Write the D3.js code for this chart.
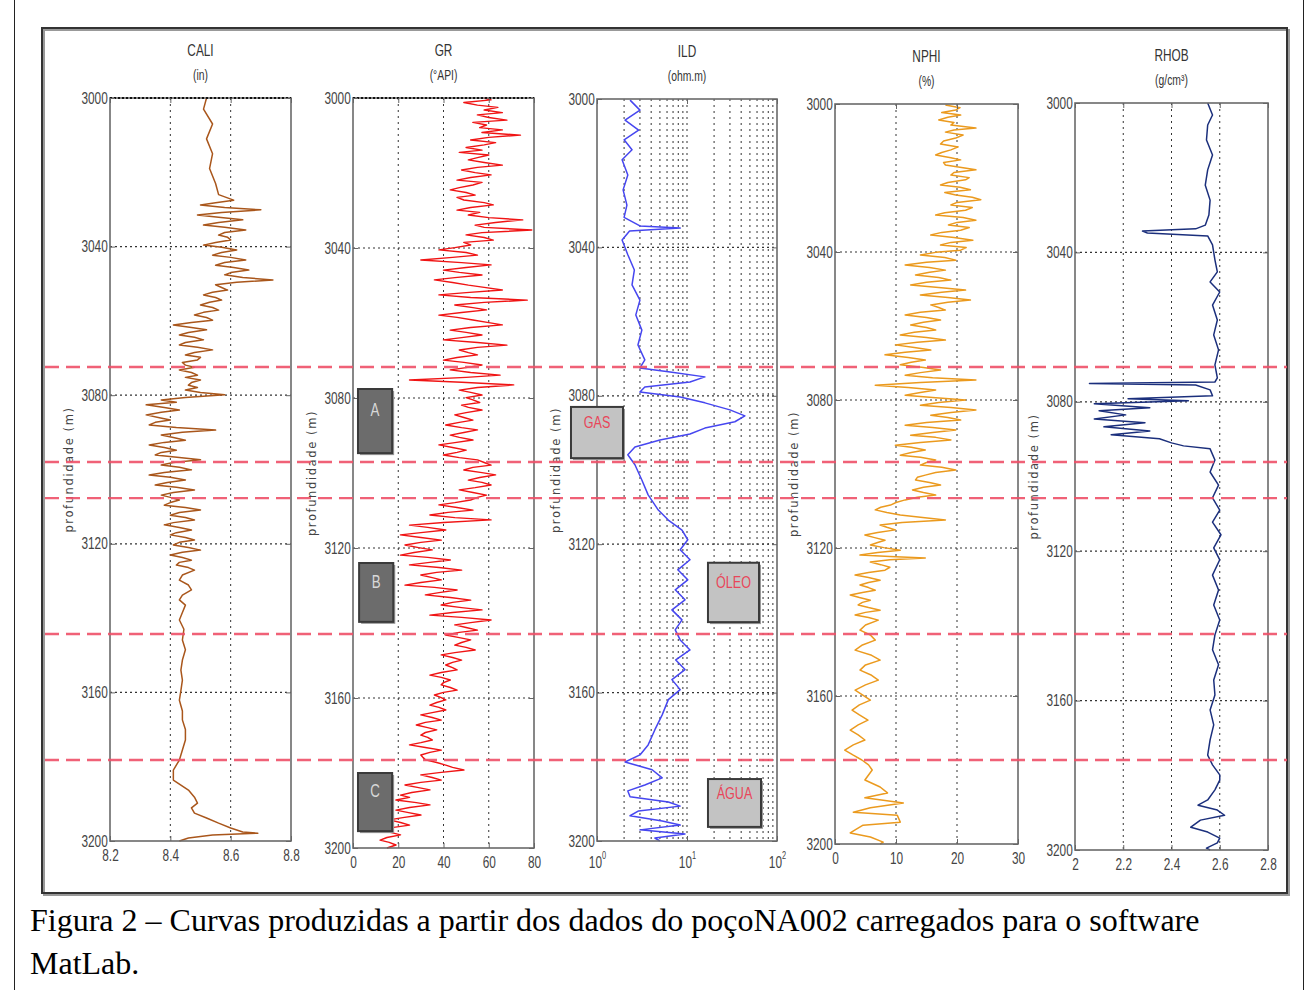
<!DOCTYPE html>
<html>
<head>
<meta charset="utf-8">
<script src="https://cdn.jsdelivr.net/npm/d3@7"></script>
<style>
  body { margin: 0; background: #fff; }
  .tick text { font-family: "Liberation Sans", Arial, sans-serif; font-size: 16px; fill: #444; }
  .tick line { stroke: #666; }
</style>
</head>
<body>
<svg id="chart" width="1308" height="990"></svg>
<script>
// depth axis shared by all tracks
const depthTicks = [3000, 3040, 3080, 3120, 3160, 3200];

const caliTicks = [8.2, 8.4, 8.6, 8.8];
const grTicks = [0, 20, 40, 60, 80];
const ildTicks = [1, 10, 100];
const ildMinor = [2, 3, 4, 5, 6, 7, 8, 9, 10, 20, 30, 40, 50, 60, 70, 80, 90];
const nphiTicks = [0, 10, 20, 30];
const rhobTicks = [2, 2.2, 2.4, 2.6, 2.8];

// [depth (m), value]
const CALI = [
  [3000,8.52],[3003,8.51],[3007,8.54],[3011,8.52],[3015,8.54],[3019,8.53],[3023,8.55],[3026,8.56],
  [3027.5,8.61],[3028.2,8.55],[3028.8,8.50],[3029.5,8.58],[3030.1,8.70],[3030.8,8.57],[3031.5,8.49],
  [3032.1,8.56],[3032.8,8.64],[3033.5,8.56],[3034.2,8.51],[3034.8,8.58],[3035.5,8.65],[3036.2,8.58],
  [3036.9,8.56],[3037.5,8.59],[3038.2,8.60],[3038.9,8.55],[3039.6,8.51],[3040.2,8.57],[3040.9,8.62],
  [3041.6,8.57],[3042.3,8.54],[3042.9,8.60],[3043.6,8.65],[3044.3,8.58],[3045,8.55],[3045.6,8.61],
  [3046.3,8.66],[3047,8.60],[3047.6,8.58],[3048.3,8.64],[3049,8.74],[3049.6,8.62],[3050.3,8.55],
  [3051,8.57],[3051.7,8.59],[3052.3,8.54],[3053,8.51],[3053.7,8.55],[3054.4,8.57],[3055,8.53],
  [3055.7,8.50],[3056.4,8.54],[3057.1,8.56],[3057.7,8.51],[3058.4,8.48],[3059.1,8.52],[3059.8,8.54],
  [3060.4,8.47],[3061.1,8.41],[3061.8,8.47],[3062.4,8.52],[3063.1,8.46],[3063.8,8.43],[3064.4,8.48],
  [3065.1,8.51],[3065.8,8.45],[3066.5,8.43],[3067.1,8.49],[3067.8,8.54],[3068.5,8.48],[3069.2,8.45],
  [3069.8,8.50],[3070.5,8.49],[3071.2,8.44],[3071.9,8.45],[3072.5,8.48],[3073.2,8.43],[3073.9,8.47],
  [3074.6,8.49],[3075.2,8.45],[3075.9,8.50],[3076.6,8.47],[3077.3,8.46],[3077.9,8.49],[3078.6,8.45],
  [3079.3,8.50],[3079.9,8.58],[3080.6,8.45],[3081.3,8.37],[3081.9,8.42],[3082.6,8.32],[3083.3,8.38],
  [3084,8.43],[3084.6,8.37],[3085.3,8.32],[3086,8.36],[3086.7,8.40],[3087.3,8.35],[3088,8.33],
  [3088.7,8.42],[3089.4,8.55],[3090,8.44],[3090.7,8.37],[3091.4,8.41],[3092.1,8.45],[3092.7,8.38],
  [3093.4,8.33],[3094.1,8.38],[3094.8,8.42],[3095.4,8.37],[3096.1,8.35],[3096.8,8.43],[3097.4,8.50],
  [3098.1,8.41],[3098.8,8.37],[3099.4,8.43],[3100.1,8.47],[3100.8,8.38],[3101.5,8.33],[3102.1,8.40],
  [3102.8,8.45],[3103.5,8.39],[3104.2,8.35],[3104.8,8.42],[3105.5,8.48],[3106.2,8.41],[3106.9,8.37],
  [3107.5,8.40],[3108.2,8.43],[3108.9,8.40],[3109.6,8.38],[3110.2,8.45],[3110.9,8.50],[3111.6,8.43],
  [3112.3,8.40],[3112.9,8.45],[3113.6,8.48],[3114.3,8.41],[3114.9,8.38],[3115.6,8.43],[3116.3,8.47],
  [3117,8.42],[3117.6,8.40],[3118.3,8.45],[3119,8.48],[3119.6,8.43],[3120.3,8.41],[3121,8.46],
  [3121.7,8.50],[3122.3,8.44],[3123,8.40],[3123.7,8.44],[3124.4,8.47],[3125,8.43],[3125.7,8.42],
  [3126.4,8.46],[3127.1,8.48],[3128.4,8.44],[3129.8,8.43],[3131.1,8.46],[3132.4,8.47],[3133.8,8.44],
  [3135.1,8.43],[3136.5,8.45],[3138.5,8.44],[3140.5,8.43],[3143,8.445],[3145.9,8.44],[3148.5,8.45],
  [3151.3,8.44],[3154,8.435],[3156.7,8.44],[3159.5,8.435],[3162.1,8.43],[3165,8.44],[3167.4,8.44],
  [3170,8.45],[3172.8,8.45],[3175.5,8.44],[3178.2,8.43],[3180.9,8.41],[3183.6,8.41],[3186.3,8.46],
  [3188.2,8.48],[3189.8,8.49],[3191.1,8.47],[3192.5,8.48],[3193.8,8.52],[3195.2,8.56],[3196.5,8.60],
  [3197.6,8.64],[3197.9,8.69],[3198.4,8.54],[3199.2,8.46],[3200,8.43]
];

const GR = [
  [3000,58],[3000.5,61],[3001.2,49],[3001.9,55],[3002.5,64],[3003.2,58],[3003.9,66],[3004.5,55],
  [3005.2,60],[3005.9,68],[3006.5,53],[3007.2,59],[3007.9,56],[3008.5,66],[3009.2,57],[3009.9,74],
  [3010.5,60],[3011.2,52],[3011.9,63],[3012.5,58],[3013.2,50],[3013.9,57],[3014.5,47],[3015.2,60],
  [3015.9,55],[3016.5,51],[3017.2,58],[3017.9,66],[3018.5,55],[3019.2,48],[3019.9,54],[3020.5,61],
  [3021.2,52],[3021.9,46],[3022.5,57],[3023.2,53],[3023.9,47],[3024.5,43],[3025.2,50],[3025.9,54],
  [3026.5,46],[3027.2,49],[3027.9,58],[3028.5,62],[3029.2,52],[3029.9,46],[3030.5,56],[3031.2,51],
  [3031.9,60],[3032.5,75],[3033.2,63],[3033.9,54],[3034.5,58],[3035.2,79],[3035.9,57],[3036.5,50],
  [3037.2,58],[3037.9,62],[3038.5,49],[3039.2,52],[3039.9,45],[3040.5,38],[3041.2,50],[3041.9,55],
  [3042.5,44],[3043.2,30],[3043.9,48],[3044.5,61],[3045.2,50],[3045.9,40],[3046.5,47],[3047.2,57],
  [3047.9,45],[3048.5,36],[3049.2,44],[3049.9,51],[3050.5,58],[3051.2,66],[3051.9,50],[3052.5,38],
  [3053.2,52],[3053.9,77],[3054.5,58],[3055.2,45],[3055.9,53],[3056.5,59],[3057.2,48],[3057.9,38],
  [3058.5,46],[3059.2,53],[3059.9,60],[3060.5,66],[3061.2,52],[3061.9,43],[3062.5,50],[3063.2,57],
  [3063.9,48],[3064.5,40],[3065.2,55],[3065.9,68],[3066.5,55],[3067.2,47],[3067.9,51],[3068.5,55],
  [3069.2,46],[3069.9,40],[3070.5,49],[3071.2,57],[3071.9,50],[3072.5,43],[3073.2,52],[3073.9,65],
  [3074.5,50],[3075.2,25],[3075.8,48],[3076.5,71],[3077.2,55],[3077.9,47],[3078.5,52],[3079.2,57],
  [3079.9,50],[3080.5,53],[3081.2,56],[3081.9,48],[3082.5,51],[3083.2,57],[3083.9,50],[3084.5,45],
  [3085.2,49],[3085.9,53],[3086.5,47],[3087.2,41],[3087.9,48],[3088.5,55],[3089.2,49],[3089.9,43],
  [3090.5,47],[3091.2,53],[3091.9,45],[3092.5,38],[3093.2,44],[3093.9,50],[3094.5,46],[3095.2,40],
  [3095.9,47],[3096.5,55],[3097.2,58],[3097.9,61],[3098.5,53],[3099.2,49],[3099.9,57],[3100.5,63],
  [3101.2,56],[3101.9,51],[3102.5,57],[3103.2,61],[3103.9,54],[3104.5,47],[3105.2,53],[3105.9,59],
  [3106.5,55],[3107.2,52],[3107.9,45],[3108.5,38],[3109.2,46],[3109.9,53],[3110.5,42],[3111.2,34],
  [3111.9,45],[3112.5,61],[3113.2,40],[3113.9,25],[3114.5,33],[3115.2,41],[3115.9,30],[3116.5,21],
  [3117.2,30],[3117.9,39],[3118.5,30],[3119.2,23],[3119.9,29],[3120.5,35],[3121.2,27],[3121.9,21],
  [3122.5,33],[3123.2,43],[3123.9,33],[3124.5,25],[3125.2,38],[3125.9,48],[3126.5,37],[3127.2,30],
  [3127.9,35],[3128.5,39],[3129.2,30],[3129.9,23],[3130.5,36],[3131.2,46],[3131.9,38],[3132.5,32],
  [3133.2,43],[3133.9,52],[3134.5,44],[3135.2,39],[3135.9,48],[3136.5,57],[3137.2,44],[3137.9,34],
  [3138.5,48],[3139.2,61],[3139.9,52],[3140.5,45],[3141.2,50],[3141.9,55],[3142.5,47],[3143.2,41],
  [3143.9,47],[3144.5,52],[3145.2,48],[3145.9,45],[3146.5,50],[3147.2,54],[3147.9,45],[3148.5,39],
  [3149.2,44],[3149.9,48],[3150.5,44],[3151.2,41],[3151.9,44],[3152.5,46],[3153.2,39],[3153.9,34],
  [3154.5,39],[3155.2,43],[3155.9,40],[3156.5,39],[3157.2,43],[3157.9,46],[3158.5,40],[3159.2,36],
  [3159.9,39],[3160.5,41],[3161.2,37],[3161.9,34],[3162.5,38],[3163.2,41],[3163.9,35],[3164.5,30],
  [3165.2,35],[3165.9,39],[3166.5,32],[3167.2,28],[3167.9,33],[3168.5,37],[3169.2,32],[3169.9,30],
  [3170.5,33],[3171.2,35],[3171.9,30],[3172.5,25],[3173.2,32],[3173.9,39],[3174.5,34],[3175.2,30],
  [3175.9,31],[3176.5,32],[3177.2,37],[3177.9,41],[3178.5,44],[3179.2,49],[3179.9,38],[3180.5,30],
  [3181.2,35],[3181.9,39],[3182.5,30],[3183.2,23],[3183.9,29],[3184.5,34],[3185.2,26],[3185.9,21],
  [3186.5,25],[3187.2,19],[3187.9,28],[3188.5,34],[3189.2,25],[3189.9,19],[3190.5,24],[3191.2,30],
  [3191.9,22],[3192.5,16],[3193.2,21],[3193.9,25],[3194.5,18],[3195.2,12],[3195.9,17],[3196.5,21],
  [3197.2,15],[3197.9,12],[3198.5,16],[3199.2,19],[3200,15]
];

const ILD = [
  [3000.3,2.33],[3003,3.0],[3005.7,2.05],[3008.4,2.9],[3011,2.0],[3013.7,2.45],[3016.4,1.9],
  [3020.5,2.2],[3024.5,1.95],[3028.6,2.15],[3031.9,2.0],[3034.2,3.0],[3034.8,8.4],[3035.6,2.3],
  [3038,1.9],[3042,2.2],[3046.1,2.6],[3050.1,2.45],[3054.2,3.0],[3058.2,2.7],[3062.3,3.15],
  [3066.3,2.85],[3070.3,3.4],[3072.5,3.0],[3073.6,6.5],[3074.9,15.8],[3076.3,10.8],[3077.6,3.4],
  [3079,3.0],[3080.3,8.4],[3081.9,15.8],[3083.8,30],[3085.4,44],[3087,34],[3088.7,15.8],
  [3090.3,10.8],[3091.9,5.0],[3093.8,2.64],[3095.9,2.2],[3098.6,2.64],[3102.7,3.15],[3106.7,3.7],
  [3110.8,4.8],[3113.5,6.2],[3116.2,8.8],[3118.8,10.2],[3121.5,8.4],[3124.2,10.8],[3126.9,7.9],
  [3129.6,10.2],[3132.3,7.4],[3135,9.5],[3137.7,6.8],[3140.4,8.8],[3143.1,7.4],[3145.8,8.4],
  [3148.5,10.8],[3151.2,7.5],[3153.8,9.5],[3156.5,6.8],[3159.2,8.4],[3161.9,6.2],[3166,5.3],
  [3170,4.4],[3174.1,3.7],[3176.8,3.0],[3178.7,2.05],[3180.8,4.1],[3183,5.3],[3184.9,3.4],
  [3186.5,2.2],[3188.1,2.33],[3189.5,6.2],[3190.6,8.4],[3191.9,2.9],[3193.2,2.33],[3194.6,5.3],
  [3195.7,8.4],[3197,3.0],[3198.1,9.5],[3199.2,4.4],[3200,5.0]
];

const NPHI = [
  [3000.3,18.1],[3001,20.5],[3001.6,19.8],[3002.3,17.5],[3003,20.6],[3003.6,18.5],[3004.3,17.0],
  [3005,19.5],[3005.7,19.0],[3006.5,23.1],[3007,19.5],[3007.6,18.1],[3008.4,21.0],[3009.2,19.8],
  [3010,17.8],[3010.8,17.3],[3011.6,20.2],[3012.4,19.0],[3013.1,17.5],[3013.8,16.5],[3014.5,19.0],
  [3015.1,20.6],[3015.8,17.8],[3016.5,18.1],[3017.2,21.0],[3017.8,23.1],[3018.5,19.5],[3019.2,19.0],
  [3019.9,22.0],[3020.5,21.4],[3021.2,18.5],[3021.9,17.3],[3022.5,20.5],[3023.2,22.2],[3023.9,18.0],
  [3024.6,19.8],[3025.2,22.5],[3025.9,23.9],[3026.6,20.0],[3027.3,19.0],[3028,22.5],[3028.7,21.4],
  [3029.4,18.0],[3030,16.5],[3030.7,21.0],[3031.4,23.1],[3032,20.0],[3032.7,18.6],[3033.4,22.0],
  [3034.1,20.6],[3034.7,17.5],[3035.4,15.7],[3036.1,19.5],[3036.8,22.6],[3037.4,19.0],[3038.1,17.3],
  [3038.8,21.5],[3039.5,20.6],[3040.1,16.5],[3040.8,14.0],[3041.5,18.0],[3042.2,19.8],[3042.8,15.0],
  [3043.5,11.5],[3044.2,15.5],[3044.9,18.1],[3045.5,15.5],[3046.2,13.2],[3046.9,17.0],[3047.6,19.0],
  [3048.2,15.0],[3048.9,12.4],[3049.6,17.0],[3050.3,21.4],[3050.9,17.5],[3051.6,14.0],[3052.3,18.5],
  [3053,22.2],[3053.6,18.5],[3054.3,15.7],[3055,17.0],[3055.7,18.1],[3056.3,14.0],[3057,11.5],
  [3057.7,15.0],[3058.4,17.3],[3059,14.5],[3059.7,12.4],[3060.4,15.0],[3061.1,16.5],[3061.7,13.0],
  [3062.4,10.7],[3063.1,15.0],[3063.8,18.1],[3064.4,13.5],[3065.1,9.9],[3065.8,13.0],[3066.5,15.7],
  [3067.1,11.5],[3067.8,8.2],[3068.5,12.0],[3069.2,14.8],[3069.8,12.5],[3070.5,10.7],[3071.2,14.5],
  [3071.9,17.3],[3072.6,14.0],[3073.3,11.5],[3074,16.0],[3074.6,23.1],[3075.3,14.0],[3076,6.6],
  [3076.6,12.0],[3077.3,16.5],[3078,14.0],[3078.7,11.5],[3079.3,16.0],[3080,21.4],[3080.7,17.0],
  [3081.4,14.0],[3082,19.0],[3082.7,23.1],[3083.4,19.0],[3084.1,15.7],[3084.7,18.5],[3085.4,20.6],
  [3086.1,15.0],[3086.8,11.5],[3087.4,16.0],[3088.1,19.8],[3088.8,16.0],[3089.5,12.4],[3090.1,16.5],
  [3090.8,19.0],[3091.5,14.0],[3092.2,9.9],[3092.8,12.5],[3093.5,14.8],[3094.2,12.5],[3094.9,10.7],
  [3095.5,14.0],[3096.2,16.5],[3096.9,15.0],[3097.6,14.0],[3098.2,17.5],[3098.9,19.8],[3099.6,16.5],
  [3100.3,14.8],[3100.9,13.5],[3101.6,13.2],[3102.3,15.5],[3103,17.3],[3103.6,14.5],[3104.3,12.7],
  [3105,14.5],[3105.7,16.5],[3106.3,13.5],[3107,11.5],[3107.7,10.0],[3108.4,9.1],[3109,7.5],
  [3109.7,6.6],[3110.4,8.5],[3111.1,10.7],[3111.7,14.0],[3112.4,18.1],[3113.1,11.0],[3113.8,7.4],
  [3114.4,8.5],[3115.1,9.9],[3115.8,7.0],[3116.5,4.9],[3117.2,6.5],[3117.9,8.2],[3118.5,7.0],
  [3119.2,5.8],[3119.9,8.0],[3120.6,10.7],[3121.2,7.0],[3121.9,4.1],[3122.3,9.0],[3122.7,14.8],
  [3123.2,9.0],[3123.8,5.8],[3124.5,7.5],[3125.2,9.0],[3126,8.2],[3126.6,5.5],[3127.3,3.3],
  [3128,5.5],[3128.7,7.4],[3129.3,5.5],[3130,4.1],[3130.7,5.5],[3131.4,6.6],[3132,4.5],[3132.7,2.5],
  [3133.4,4.0],[3134.1,5.8],[3134.7,4.5],[3135.4,3.8],[3136.1,5.5],[3136.8,7.4],[3137.4,5.0],
  [3138.1,3.3],[3138.8,5.5],[3139.5,7.1],[3140.8,5.0],[3142.2,4.1],[3143.5,5.8],[3144.9,6.6],
  [3146.2,4.5],[3147.6,3.3],[3149,6.0],[3150.3,7.4],[3151.6,5.0],[3153,4.1],[3154.4,6.0],[3155.7,7.1],
  [3157,5.0],[3158.4,3.3],[3159.7,4.5],[3161.1,5.8],[3162.4,4.0],[3163.8,2.8],[3165.1,4.0],
  [3166.5,5.4],[3167.8,3.8],[3169.2,2.5],[3170.5,3.8],[3171.9,4.9],[3173.2,3.0],[3174.6,1.6],
  [3176,3.0],[3177.3,4.4],[3178.6,5.5],[3180,6.1],[3182.7,4.9],[3184.6,7.4],[3186.2,8.6],[3187.5,4.9],
  [3188.9,11.2],[3190.2,5.8],[3191.4,3.0],[3192.2,10.2],[3194.1,10.7],[3194.9,4.6],[3196.2,3.3],
  [3197,2.5],[3198.1,5.8],[3199.5,7.9],[3200,7.4]
];

const RHOB = [
  [3000,2.55],[3003.2,2.57],[3005.9,2.55],[3009.9,2.545],[3013.9,2.57],[3017.9,2.55],[3022,2.54],
  [3026,2.56],[3030,2.555],[3032.7,2.54],[3033.7,2.50],[3034.3,2.28],[3034.8,2.30],[3035.6,2.55],
  [3038,2.57],[3042,2.58],[3045.2,2.59],[3047.9,2.56],[3050.6,2.60],[3054.1,2.57],[3058.1,2.59],
  [3062.1,2.575],[3066.1,2.595],[3070.1,2.58],[3073.6,2.59],[3074.7,2.58],[3075.1,2.06],[3075.5,2.50],
  [3076.8,2.56],[3078.4,2.57],[3079.2,2.22],[3079.7,2.47],[3080.5,2.08],[3081.6,2.31],[3082.4,2.10],
  [3083.5,2.21],[3084.6,2.08],[3085.6,2.29],[3086.7,2.12],[3087.8,2.31],[3088.8,2.15],[3089.9,2.35],
  [3091,2.40],[3091.8,2.45],[3092.6,2.56],[3095.6,2.58],[3098.8,2.56],[3102.3,2.595],[3105.7,2.57],
  [3109,2.60],[3112.2,2.57],[3115.6,2.605],[3119.1,2.575],[3122.3,2.60],[3126.4,2.57],[3130.4,2.595],
  [3134.4,2.575],[3138.4,2.60],[3142.4,2.58],[3146.4,2.57],[3150.4,2.595],[3154.5,2.575],[3158.5,2.58],
  [3162.5,2.56],[3166.5,2.575],[3170.5,2.56],[3174.6,2.55],[3177.2,2.57],[3179.9,2.60],[3181.3,2.60],
  [3183.9,2.58],[3186.6,2.55],[3188,2.51],[3189.3,2.59],[3190.7,2.62],[3192,2.52],[3193.9,2.48],
  [3195.2,2.55],[3196.8,2.60],[3198.1,2.59],[3199.5,2.545],[3200,2.56]
];

// zone boundaries (m), drawn across all tracks
const zoneDepths = [3072.4, 3098.0, 3107.7, 3144.3, 3178.2];

// annotation boxes in data units of their track
const boxes = [
  { track: "GR", label: "A", x: [2.2, 17.3], d: [3077.6, 3094.7], dark: true },
  { track: "GR", label: "B", x: [2.7, 17.8], d: [3124.0, 3139.7], dark: true },
  { track: "GR", label: "C", x: [2.2, 17.3], d: [3180.0, 3195.5], dark: true },
  { track: "ILD", label: "GAS", x: [0.514, 1.945], d: [3083.0, 3096.8], dark: false },
  { track: "ILD", label: "ÓLEO", x: [17.1, 63.1], d: [3125.0, 3141.0], dark: false },
  { track: "ILD", label: "ÁGUA", x: [17.1, 66.4], d: [3183.3, 3196.2], dark: false }
];

const tracks = [
  { name: "CALI", unit: "(in)", data: CALI, color: "#a9561b", left: 110, right: 291, top: 98, bottom: 841,
    domain: [8.2, 8.8], ticks: caliTicks, dottedTop: true },
  { name: "GR", unit: "(°API)", data: GR, color: "#f01414", left: 353, right: 534, top: 98, bottom: 848,
    domain: [0, 80], ticks: grTicks, dottedTop: true },
  { name: "ILD", unit: "(ohm.m)", data: ILD, color: "#4646f0", left: 597, right: 777, top: 99, bottom: 841,
    domain: [1, 100], ticks: ildTicks, log: true },
  { name: "NPHI", unit: "(%)", data: NPHI, color: "#eb9a1e", left: 835, right: 1018, top: 104, bottom: 844,
    domain: [0, 30], ticks: nphiTicks },
  { name: "RHOB", unit: "(g/cm³)", data: RHOB, color: "#1b2f7c", left: 1075, right: 1268, top: 103, bottom: 850,
    domain: [2, 2.8], ticks: rhobTicks }
];

const svg = d3.select("#chart");
svg.append("rect").attr("width", 1308).attr("height", 990).attr("fill", "#fff");

// page border and figure frame
svg.append("path")
  .attr("d", "M14.5,0V990M1303.5,0V990")
  .attr("stroke", "#222").attr("stroke-width", 1);
svg.append("rect")
  .attr("x", 44).attr("y", 30).attr("width", 1245).attr("height", 865)
  .attr("fill", "none").attr("stroke", "#999").attr("stroke-width", 2);
svg.append("rect")
  .attr("x", 42).attr("y", 28).attr("width", 1245).attr("height", 865)
  .attr("fill", "none").attr("stroke", "#333").attr("stroke-width", 2);

const sans = '"Liberation Sans", Arial, sans-serif';
const squeeze = "scale(0.74,1)";

tracks.forEach(t => {
  const w = t.right - t.left, h = t.bottom - t.top;
  const x = (t.log ? d3.scaleLog() : d3.scaleLinear()).domain(t.domain).range([0, w]);
  const y = d3.scaleLinear().domain([3000, 3200]).range([0, h]);
  t.x = x; t.y = y;

  const g = svg.append("g").attr("transform", `translate(${t.left},${t.top})`);
  g.append("rect").attr("width", w).attr("height", h).attr("fill", "#fff");

  // dotted grid
  const vgrid = t.log ? ildMinor : t.ticks.slice(1, -1);
  g.selectAll(".vg").data(vgrid).join("line")
    .attr("x1", d => x(d)).attr("x2", d => x(d)).attr("y1", 0).attr("y2", h)
    .attr("stroke", "#333").attr("stroke-width", 1).attr("stroke-dasharray", "2,4");
  g.selectAll(".hg").data(depthTicks.slice(1, -1)).join("line")
    .attr("x1", 0).attr("x2", w).attr("y1", d => y(d)).attr("y2", d => y(d))
    .attr("stroke", "#333").attr("stroke-width", 1.2).attr("stroke-dasharray", "2,3");

  // curve
  g.append("path").datum(t.data)
    .attr("d", d3.line().x(d => x(d[1])).y(d => y(d[0])))
    .attr("fill", "none").attr("stroke", t.color).attr("stroke-width", 1.5)
    .attr("stroke-linejoin", "round");

  // box
  g.append("rect").attr("width", w).attr("height", h)
    .attr("fill", "none").attr("stroke", "#6a6a6a").attr("stroke-width", 1.6);
  if (t.dottedTop) {
    g.append("line").attr("x1", 0).attr("x2", w).attr("y1", 0).attr("y2", 0)
      .attr("stroke", "#111").attr("stroke-width", 2.2).attr("stroke-dasharray", "2,2");
  }

  // axes (ticks pointing inward, MATLAB style)
  g.append("g")
    .call(d3.axisLeft(y).tickValues(depthTicks).tickFormat(String)
      .tickSizeInner(-5).tickSizeOuter(0).tickPadding(3))
    .call(a => a.select(".domain").remove())
    .call(a => a.selectAll(".tick text").attr("transform", squeeze));
  g.append("g").attr("transform", `translate(${w},0)`)
    .call(d3.axisRight(y).tickValues(depthTicks).tickSizeInner(-5).tickSizeOuter(0).tickFormat(""))
    .call(a => a.select(".domain").remove());

  const bottomAxis = d3.axisBottom(x).tickValues(t.ticks).tickFormat(t.log ? "" : String)
    .tickSizeInner(-5).tickSizeOuter(0).tickPadding(9);
  const bx = g.append("g").attr("transform", `translate(0,${h})`).call(bottomAxis)
    .call(a => a.select(".domain").remove())
    .call(a => a.selectAll(".tick text").attr("transform", squeeze));
  if (t.log) {
    bx.selectAll(".tick").append("text")
      .attr("y", 27).attr("text-anchor", "middle").attr("transform", squeeze)
      .text("10")
      .append("tspan").attr("dy", -9).attr("font-size", 10)
      .text(d => Math.round(Math.log10(d)));
  }
  g.append("g")
    .call(d3.axisTop(x).tickValues(t.ticks).tickSizeInner(-5).tickSizeOuter(0).tickFormat(""))
    .call(a => a.select(".domain").remove());

  // titles
  g.append("text").attr("transform", `translate(${w / 2},-42) ${squeeze}`).attr("text-anchor", "middle")
    .attr("font-family", sans).attr("font-size", 16).attr("fill", "#333").text(t.name);
  g.append("text").attr("transform", `translate(${w / 2},-18) ${squeeze}`).attr("text-anchor", "middle")
    .attr("font-family", sans).attr("font-size", 14).attr("fill", "#333").text(t.unit);

  // depth label
  g.append("text")
    .attr("transform", `translate(-37,${h / 2}) rotate(-90)`)
    .attr("text-anchor", "middle")
    .attr("font-family", "DejaVu Sans, sans-serif").attr("font-size", 11.5)
    .attr("letter-spacing", 1.6).attr("fill", "#444")
    .text("profundidade (m)");
});

// annotation boxes
const byName = Object.fromEntries(tracks.map(t => [t.name, t]));
boxes.forEach(b => {
  const t = byName[b.track];
  const x0 = t.left + t.x(b.x[0]), x1 = t.left + t.x(b.x[1]);
  const y0 = t.top + t.y(b.d[0]), y1 = t.top + t.y(b.d[1]);
  svg.append("rect").attr("x", x0 + 2).attr("y", y0 + 2).attr("width", x1 - x0).attr("height", y1 - y0)
    .attr("fill", "#9a9a9a");
  svg.append("rect").attr("x", x0).attr("y", y0).attr("width", x1 - x0).attr("height", y1 - y0)
    .attr("fill", b.dark ? "#6c6c6c" : "#c3c3c3").attr("stroke", "#3a3a3a").attr("stroke-width", 2);
  svg.append("text")
    .attr("transform", `translate(${(x0 + x1) / 2},${y0 + (y1 - y0) * 0.42}) ${squeeze}`)
    .attr("text-anchor", "middle")
    .attr("font-family", sans).attr("font-size", b.dark ? 18 : 17)
    .attr("fill", b.dark ? "#d8d8d8" : "#e8465a")
    .text(b.label);
});

// zone boundaries across the figure
const zy = d => tracks[0].top + tracks[0].y(d);
svg.selectAll(".zone").data(zoneDepths).join("line")
  .attr("x1", 45).attr("x2", 1287).attr("y1", zy).attr("y2", zy)
  .attr("stroke", "#ee5068").attr("stroke-opacity", 0.9)
  .attr("stroke-width", 2.4).attr("stroke-dasharray", "14,7");

// caption
const cap = svg.append("text").attr("font-family", "Liberation Serif, serif").attr("font-size", 32).attr("fill", "#000");
cap.append("tspan").attr("x", 30).attr("y", 931)
  .text("Figura 2 – Curvas produzidas a partir dos dados do poçoNA002 carregados para o software");
cap.append("tspan").attr("x", 30).attr("y", 974).text("MatLab.");
</script>
</body>
</html>
